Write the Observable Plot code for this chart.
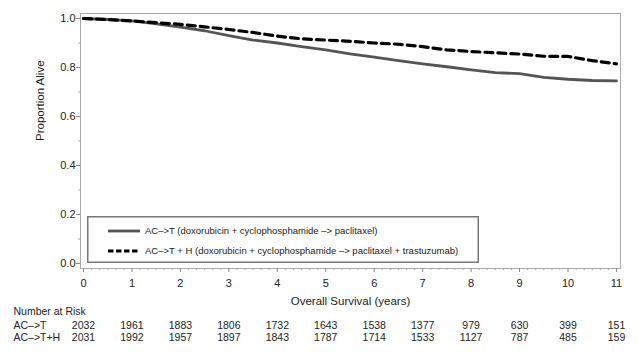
<!DOCTYPE html>
<html>
<head>
<meta charset="utf-8">
<script src="https://cdn.jsdelivr.net/npm/d3@7"></script>
<script src="https://cdn.jsdelivr.net/npm/@observablehq/plot@0.6"></script>
<style>
  body { margin: 0; background: white; }
  #wrap { position: relative; width: 639px; height: 362px; font-family: "Liberation Sans", Arial, sans-serif; }
</style>
</head>
<body>
<div id="wrap"></div>
<script>
// Survival curves
const years = [0, 0.5, 1, 1.5, 2, 2.5, 3, 3.5, 4, 4.5, 5, 5.5, 6, 6.5, 7, 7.5, 8, 8.5, 9, 9.5, 10, 10.5, 11];
const survT = [1.0, 0.996, 0.99, 0.978, 0.965, 0.95, 0.93, 0.912, 0.9, 0.885, 0.872, 0.856, 0.842, 0.828, 0.815, 0.803, 0.79, 0.779, 0.775, 0.76, 0.752, 0.747, 0.745];
const survTH = [1.0, 0.996, 0.99, 0.983, 0.976, 0.966, 0.955, 0.943, 0.928, 0.917, 0.912, 0.907, 0.9, 0.895, 0.885, 0.872, 0.865, 0.86, 0.855, 0.846, 0.845, 0.828, 0.815];

// Number at risk table
const riskYears = [0, 1, 2, 3, 4, 5, 6, 7, 8, 9, 10, 11];
const riskT = [2032, 1961, 1883, 1806, 1732, 1643, 1538, 1377, 979, 630, 399, 151];
const riskTH = [2031, 1992, 1957, 1897, 1843, 1787, 1714, 1533, 1127, 787, 485, 159];

// Tick values
const xMajor = d3.range(0, 12);
const xMinor = d3.range(0, 67).map(i => i / 6).filter(v => Math.abs(v - Math.round(v)) > 1e-6);
const yMajor = [0, 0.2, 0.4, 0.6, 0.8, 1.0];
const yMinor = [0.1, 0.3, 0.5, 0.7, 0.9];

const labelT = "AC–>T (doxorubicin + cyclophosphamide –> paclitaxel)";
const labelTH = "AC–>T + H (doxorubicin + cyclophosphamide –> paclitaxel + trastuzumab)";

const dataT = years.map((t, i) => ({t, s: survT[i]}));
const dataTH = years.map((t, i) => ({t, s: survTH[i]}));

const plot = Plot.plot({
  width: 639,
  height: 362,
  marginLeft: 80,
  marginRight: 19,
  marginTop: 13,
  marginBottom: 94,
  style: {fontFamily: "'Liberation Sans', Arial, sans-serif", fontSize: "11px", color: "#222", background: "white", overflow: "visible"},
  x: {domain: [-0.062, 11.083]},
  y: {domain: [-0.0204, 1.0204]},
  marks: [
    Plot.frame({stroke: "#aaa"}),
    Plot.axisX(xMajor, {tickSize: 4, tickPadding: 7, stroke: "#888", fontSize: 11, label: null, tickFormat: d => d}),
    Plot.axisX(xMinor, {tickSize: 2, stroke: "#aaa", tickFormat: () => "", label: null}),
    Plot.axisY(yMajor, {tickSize: 4, tickPadding: 1, stroke: "#888", fontSize: 11, label: null, tickFormat: d3.format(".1f")}),
    Plot.axisY(yMinor, {tickSize: 2, stroke: "#aaa", tickFormat: () => "", label: null}),
    Plot.line(dataT, {x: "t", y: "s", stroke: "#555", strokeWidth: 2.8}),
    Plot.line(dataTH, {x: "t", y: "s", stroke: "#000", strokeWidth: 3.2, strokeDasharray: "8,5"}),
    Plot.text(["Overall Survival (years)"], {frameAnchor: "bottom", dy: 36, fontSize: 11.5, fill: "#222"}),
    Plot.text(["Proportion Alive"], {frameAnchor: "left", dx: -40, rotate: -90, fontSize: 11.5, fill: "#222"}),
    Plot.text(["Number at Risk"], {frameAnchor: "bottom-left", dx: -67, dy: 46, textAnchor: "start", fontSize: 10.5, fill: "#222"}),
    Plot.text(["AC–>T"], {frameAnchor: "bottom-left", dx: -67, dy: 60, textAnchor: "start", fontSize: 10.5, fill: "#222"}),
    Plot.text(["AC–>T+H"], {frameAnchor: "bottom-left", dx: -67, dy: 72, textAnchor: "start", fontSize: 10.5, fill: "#222"}),
    Plot.text(riskYears, {x: d => d, text: (d, i) => String(riskT[i]), frameAnchor: "bottom", dy: 60, fontSize: 10.5, fill: "#222"}),
    Plot.text(riskYears, {x: d => d, text: (d, i) => String(riskTH[i]), frameAnchor: "bottom", dy: 72, fontSize: 10.5, fill: "#222"})
  ]
});

const wrap = document.getElementById("wrap");
wrap.appendChild(plot);

// Legend inside the plot area
const lw = 392, lh = 47;
const leg = d3.create("svg").attr("id", "legend").attr("width", lw).attr("height", lh)
  .style("position", "absolute").style("left", "87px").style("top", "216px");
leg.append("rect").attr("x", 0.75).attr("y", 0.75).attr("width", lw - 1.5).attr("height", lh - 1.5)
  .attr("fill", "white").attr("stroke", "#777").attr("stroke-width", 1.5);
const entries = [
  {label: labelT, stroke: "#555", width: 2.8, dash: null, y: 15},
  {label: labelTH, stroke: "#000", width: 3.2, dash: "5.5,2.5", y: 35}
];
for (const e of entries) {
  const ln = leg.append("line").attr("x1", 21).attr("x2", 53).attr("y1", e.y).attr("y2", e.y)
    .attr("stroke", e.stroke).attr("stroke-width", e.width);
  if (e.dash) ln.attr("stroke-dasharray", e.dash);
  leg.append("text").attr("x", 58).attr("y", e.y).attr("dy", "0.35em")
    .attr("font-family", "'Liberation Sans', Arial, sans-serif").attr("font-size", 9.5)
    .attr("fill", "#222").text(e.label);
}
wrap.appendChild(leg.node());
</script>
</body>
</html>
